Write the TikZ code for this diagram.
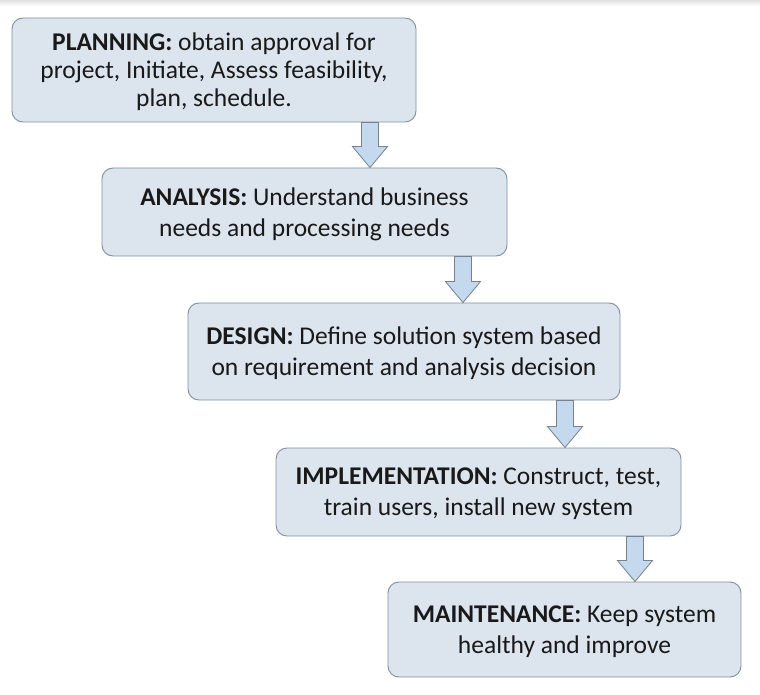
\documentclass[tikz,border=0pt]{standalone}
\usepackage{fontspec}
\setmainfont{Carlito}
\usetikzlibrary{calc}
\definecolor{boxfill}{RGB}{220,228,238}
\definecolor{boxline}{RGB}{128,144,164}
\definecolor{arrowfill}{RGB}{196,216,238}
\definecolor{arrowline}{RGB}{118,130,142}
\begin{document}
\begin{tikzpicture}[x=1pt, y=-1pt,
      stage/.style={draw=boxline, fill=boxfill, line width=0.9pt, rounded corners=11pt,
        align=center, inner sep=0pt, text depth=0pt, text=black!90,
        font=\fontsize{25.5}{31}\selectfont},
      blockarrow/.style={draw=arrowline, fill=arrowfill, line width=0.8pt,
        to path={let \p1=(\tikztostart), \p2=(\tikztotarget) in
          (\x1-8.5pt,\y1) -- (\x1-8.5pt,\y2+21pt) -- (\x1-17.5pt,\y2+21pt) -- (\x1,\y2)
          -- (\x1+17.5pt,\y2+21pt) -- (\x1+8.5pt,\y2+21pt) -- (\x1+8.5pt,\y1) -- cycle}}
    ]
    \useasboundingbox[fill=white] (0,0) rectangle (760,695);
    \shade[top color=black!12, bottom color=white] (0,0) rectangle (760,6);
    
    % stages
    \node[stage, minimum width=404pt, minimum height=104pt, font=\fontsize{25.5}{28}\selectfont] (plan) at (214,70)
      {\textbf{PLANNING:} obtain approval for\\project, Initiate, Assess feasibility,\\plan, schedule.};
    \node[stage, minimum width=405pt, minimum height=88pt] (ana) at (304.5,212)
      {\textbf{ANALYSIS:} Understand business\\needs and processing needs};
    \node[stage, minimum width=432pt, minimum height=97pt] (des) at (404,351.5)
      {\textbf{DESIGN:} Define solution system based\\on requirement and analysis decision};
    \node[stage, minimum width=405pt, minimum height=88pt] (impl) at (478.5,492)
      {\textbf{IMPLEMENTATION:} Construct, test,\\train users, install new system};
    \node[stage, minimum width=353pt, minimum height=95pt] (maint) at (564.5,629.5)
      {\textbf{MAINTENANCE:} Keep system\\healthy and improve};
    
    % arrow positions
    \coordinate (a1) at (370,0);
    \coordinate (a2) at (463,0);
    \coordinate (a3) at (565,0);
    \coordinate (a4) at (635,0);
    
    \draw[blockarrow] (plan.south -| a1) to (ana.north -| a1);
    \draw[blockarrow] (ana.south -| a2) to (des.north -| a2);
    \draw[blockarrow] (des.south -| a3) to (impl.north -| a3);
    \draw[blockarrow] (impl.south -| a4) to (maint.north -| a4);
    
    \end{tikzpicture}
\end{document}
